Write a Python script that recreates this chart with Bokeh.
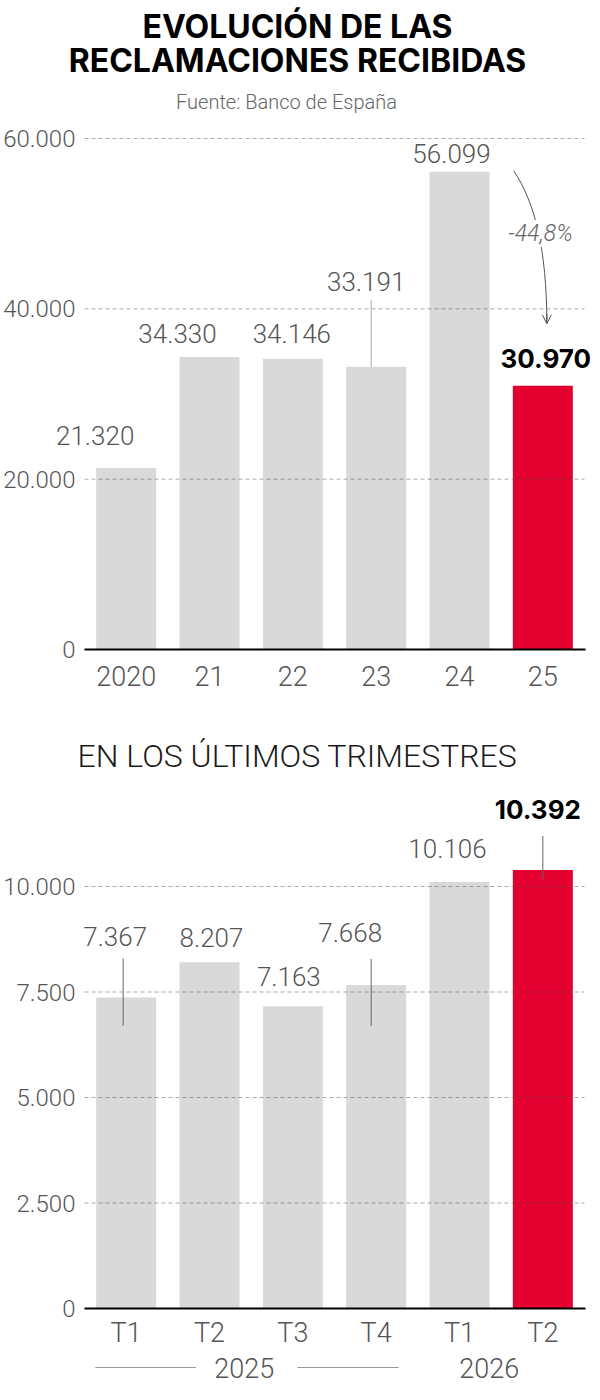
from bokeh.plotting import figure
from bokeh.layouts import column
from bokeh.models import ColumnDataSource, Range1d, FixedTicker, Label, Arrow, OpenHead
from bokeh.core.properties import value
from bokeh.embed import file_html
from bokeh.resources import INLINE

# datos
anios = ["2020", "21", "22", "23", "24", "25"]
reclamaciones = [21320, 34330, 34146, 33191, 56099, 30970]
ticks_anual = [0, 20000, 40000, 60000]

trimestres = ["T1", "T2", "T3", "T4", "T1", "T2"]
anio_trim = ["2025", "2025", "2025", "2025", "2026", "2026"]
reclamaciones_trim = [7367, 8207, 7163, 7668, 10106, 10392]
ticks_trim = [0, 2500, 5000, 7500, 10000]

# estilo
GRIS = "#d9d9d9"
ROJO = "#e4002f"
TEXTO = "#555555"
LIGERA = "Roboto Light"
NEGRITA = "Inter"

ANCHO = 592
UNIDAD = 500 / 6          # px por categoria
K1 = 511 / 60000          # px por reclamacion, grafico anual
K2 = 422 / 10000          # px por reclamacion, grafico trimestral
X_RANGO = (-0.5 - 84 / UNIDAD, 5.5 + 8 / UNIDAD)


def fmt(n):
    return f"{n:,}".replace(",", ".")


def px_x(px):
    # posicion horizontal en la pagina -> coordenada x de datos
    return (px - 84) / UNIDAD - 0.5


def nueva_figura(alto, y0, y1):
    p = figure(
        x_range=Range1d(*X_RANGO), y_range=Range1d(y0, y1),
        width=ANCHO, height=alto,
        min_border_left=0, min_border_right=0, min_border_top=0, min_border_bottom=0,
        output_backend="svg", toolbar_location=None,
    )
    p.outline_line_color = None
    p.grid.grid_line_color = None
    return p


def ejes(p, categorias, ticks, standoff):
    n = len(categorias)
    p.yaxis.fixed_location = -0.5
    p.yaxis.ticker = FixedTicker(ticks=ticks)
    p.yaxis.major_label_overrides = {t: fmt(t) for t in ticks}
    p.yaxis.axis_line_color = None
    p.yaxis.major_tick_line_color = None
    p.yaxis.minor_tick_line_color = None
    p.yaxis.major_label_text_font = LIGERA
    p.yaxis.major_label_text_font_size = "24px"
    p.yaxis.major_label_text_color = TEXTO
    p.yaxis.major_label_standoff = 3

    p.xaxis.fixed_location = 0
    p.xaxis.bounds = (-0.5, n - 0.5 + 1 / UNIDAD)
    p.xaxis.ticker = FixedTicker(ticks=list(range(n)))
    p.xaxis.major_label_overrides = {i: c for i, c in enumerate(categorias)}
    p.xaxis.axis_line_color = "black"
    p.xaxis.axis_line_width = 2
    p.xaxis.major_tick_line_color = None
    p.xaxis.minor_tick_line_color = None
    p.xaxis.major_label_text_font = LIGERA
    p.xaxis.major_label_text_font_size = "27px"
    p.xaxis.major_label_text_color = TEXTO
    p.xaxis.major_label_standoff = standoff


def barras(p, valores, ticks):
    n = len(valores)
    src = ColumnDataSource(data={
        "x": list(range(n)),
        "valor": valores,
        "color": [GRIS] * (n - 1) + [ROJO],
    })
    p.vbar(x="x", top="valor", width=0.72, source=src, fill_color="color", line_color=None)
    # lineas de rejilla por encima de las barras
    g = ticks[1:]
    p.segment(x0=[-0.5] * len(g), y0=g, x1=[n - 0.5] * len(g), y1=g,
              line_color="#555555", line_alpha=0.5, line_width=1, line_dash="4 3")


def etiquetas(p, valores, dx, up):
    n = len(valores)
    for i, v in enumerate(valores):
        ultimo = i == n - 1
        p.add_layout(Label(
            x=i, y=v, x_offset=dx[i], y_offset=up[i], text=fmt(v),
            text_align="center", text_baseline="middle",
            text_font=NEGRITA if ultimo else LIGERA,
            text_font_style="bold" if ultimo else "normal",
            text_font_size="26px",
            text_color="black" if ultimo else TEXTO,
        ))


def texto(p, x, y, t, size, color, font=LIGERA, style="normal"):
    p.add_layout(Label(
        x=x, y=y, text=t, text_align="center", text_baseline="middle",
        text_font=font, text_font_style=style, text_font_size=size,
        text_color=color,
    ))


# ---------- grafico anual ----------
p1 = nueva_figura(700, -51 / K1, 649 / K1)
barras(p1, reclamaciones, ticks_anual)
ejes(p1, anios, ticks_anual, 10)

# linea guia de 2023
v = reclamaciones[3]
p1.segment(x0=[3 - 5 / UNIDAD], y0=[v + 67 / K1], x1=[3 - 5 / UNIDAD], y1=[v],
           line_color="#aaaaaa", line_width=1)

etiquetas(p1, reclamaciones, [-31, -32, -1, -10, -8, 3], [32, 24, 25, 85, 18, 27])

# flecha de variacion 2024 -> 2025
v24, v25 = reclamaciones[4], reclamaciones[5]
x_ini, y_ini = 4 + 0.65, v24 + 1 / K1
x_fin, y_fin = 5 + 4 / UNIDAD, v25 + 62 / K1
p1.bezier(x0=[x_ini], y0=[y_ini], x1=[x_fin], y1=[y_fin],
          cx0=[4.90], cy0=[v24 - 30 / K1], cx1=[x_fin], cy1=[v24 - 77 / K1],
          line_color="#555555", line_width=1)
p1.add_layout(Arrow(end=OpenHead(size=9, line_color="#555555", line_width=1),
                    x_start=x_fin, y_start=y_fin + 10 / K1, x_end=x_fin, y_end=y_fin,
                    line_color="#555555", line_width=1))
variacion = (v25 - v24) / v24 * 100
p1.add_layout(Label(
    x=px_x(540), y=(649 - 233) / K1, text=f"{variacion:.1f}%".replace(".", ","),
    text_align="center", text_baseline="middle", text_font=LIGERA,
    text_font_style="italic", text_font_size="23px", text_color="#666666",
    background_fill_color="white",
))

# titulo
texto(p1, px_x(297), (649 - 26) / K1, "EVOLUCIÓN DE LAS", "32px", "black", NEGRITA, "bold")
texto(p1, px_x(297), (649 - 60) / K1, "RECLAMACIONES RECIBIDAS", "32px", "black", NEGRITA, "bold")
texto(p1, px_x(286), (649 - 101) / K1, "Fuente: Banco de España", "20px", "#666666")

# ---------- grafico trimestral ----------
p2 = nueva_figura(692, -84 / K2, 608 / K2)
barras(p2, reclamaciones_trim, ticks_trim)
ejes(p2, trimestres, ticks_trim, 2)

# lineas guia
guias = [(0, -3, 39, 28), (3, -5, 26, 41), (5, 0, 34, 9)]
p2.segment(
    x0=[i + d / UNIDAD for i, d, a, b in guias],
    y0=[reclamaciones_trim[i] + a / K2 for i, d, a, b in guias],
    x1=[i + d / UNIDAD for i, d, a, b in guias],
    y1=[reclamaciones_trim[i] - b / K2 for i, d, a, b in guias],
    line_color="#666666", line_width=1,
)

etiquetas(p2, reclamaciones_trim, [-11, 2, -4, -26, -12, -5], [61, 25, 30, 52, 34, 60])

# años bajo los trimestres
grupos = {}
for i, a in enumerate(anio_trim):
    grupos.setdefault(a, []).append(i)
y_anio = -59 / K2
ajuste = {"2025": -7, "2026": -12}
for a, idx in grupos.items():
    centro = (idx[0] + idx[-1]) / 2
    p2.text(x=[centro], y=[y_anio], text=[a], x_offset=ajuste[a],
            text_align="center", text_baseline="middle",
            text_font=value(LIGERA), text_font_size="27px", text_color=TEXTO)
    if len(idx) >= 4:
        c = centro + ajuste[a] / UNIDAD
        p2.segment(x0=[idx[0] - 0.37, c + 0.64], y0=[y_anio, y_anio],
                   x1=[c - 0.58, idx[-1] + 0.27], y1=[y_anio, y_anio],
                   line_color="#999999", line_width=1)

texto(p2, px_x(297), (1308 - 755) / K2, "EN LOS ÚLTIMOS TRIMESTRES", "32px", "#1a1a1a")

layout = column(p1, p2)
open("out.html", "w").write(file_html(layout, INLINE))
